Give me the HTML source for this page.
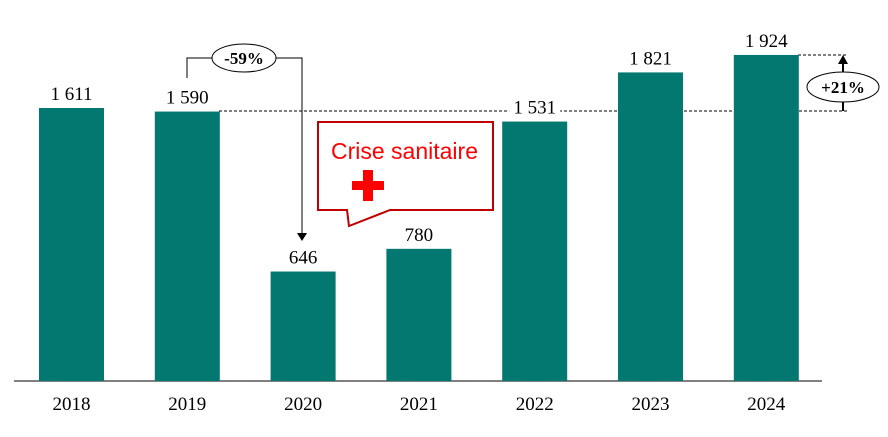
<!DOCTYPE html>
<html><head><meta charset="utf-8"><style>
body{margin:0;background:#fff}
svg{display:block}
text{font-family:"Liberation Serif",serif}
</style></head><body>
<svg id="chart" width="888" height="437">
<line x1="14" y1="381" x2="822" y2="381" stroke="#000" stroke-width="1"/>
<line x1="219" y1="111" x2="848" y2="111" stroke="#000" stroke-dasharray="3,2"/>
<line x1="798" y1="55" x2="848" y2="55" stroke="#000" stroke-dasharray="3,2"/>
<g id="bars"></g>
<g>
<polyline points="187,78 187,58 212,58" fill="none" stroke="#000"/>
<polyline points="276,58 302,58 302,233" fill="none" stroke="#000"/>
<polygon points="297,233 307,233 302,241" fill="#000"/>
<ellipse cx="244" cy="58" rx="32" ry="14" fill="#fff" stroke="#000"/>
<text x="244" y="64" text-anchor="middle" font-size="17" font-weight="bold">-59%</text>
</g>
<g>
<line x1="843" y1="111" x2="843" y2="62" stroke="#000" stroke-width="2"/>
<polygon points="838,64 848,64 843,55" fill="#000"/>
<ellipse cx="843" cy="87" rx="36" ry="15" fill="#fff" stroke="#000"/>
<text x="843" y="93" text-anchor="middle" font-size="17" font-weight="bold">+21%</text>
</g>
<g>
<path d="M318,122 H493 V210 H390 L349,226 L347,210 H318 Z" fill="#fff" stroke="#c00000" stroke-width="2"/>
<text x="331" y="159" font-size="23" fill="#ff0000" style="font-family:'Liberation Sans',sans-serif">Crise sanitaire</text>
<rect x="352" y="181" width="32" height="9" fill="#ff0000"/>
<rect x="363" y="170" width="10" height="31" fill="#ff0000"/>
</g>
</svg>
<script>
const categories=["2018","2019","2020","2021","2022","2023","2024"];
const values=[1611,1590,646,780,1531,1821,1924];
const labels=["1 611","1 590","646","780","1 531","1 821","1 924"];
const g=document.getElementById('bars');
const NS="http://www.w3.org/2000/svg";
const base=381, scale=273/1611;
function x(i){return 39+i*115.8;}
function y(v){return base-v*scale;}
categories.forEach((c,i)=>{
  const r=document.createElementNS(NS,'rect');
  r.setAttribute('x',x(i));r.setAttribute('y',y(values[i]));
  r.setAttribute('width',65);r.setAttribute('height',base-y(values[i]));
  r.setAttribute('fill','#027870');
  
  
  g.appendChild(r);
  const bg=document.createElementNS(NS,'rect');
  bg.setAttribute('x',x(i)+7);bg.setAttribute('y',y(values[i])-24);
  bg.setAttribute('width',51);bg.setAttribute('height',20);
  bg.setAttribute('fill','#fff');
  
  
  g.appendChild(bg);
  const t=document.createElementNS(NS,'text');
  t.setAttribute('x',x(i)+32.5);t.setAttribute('y',y(values[i])-8);
  t.setAttribute('text-anchor','middle');t.setAttribute('font-size','19');
  t.textContent=labels[i];
  
  
  g.appendChild(t);
  const l=document.createElementNS(NS,'text');
  l.setAttribute('x',x(i)+32.5);l.setAttribute('y',410);
  l.setAttribute('text-anchor','middle');l.setAttribute('font-size','19');
  l.textContent=c;
  
  
  g.appendChild(l);
});
</script>
</body></html>
